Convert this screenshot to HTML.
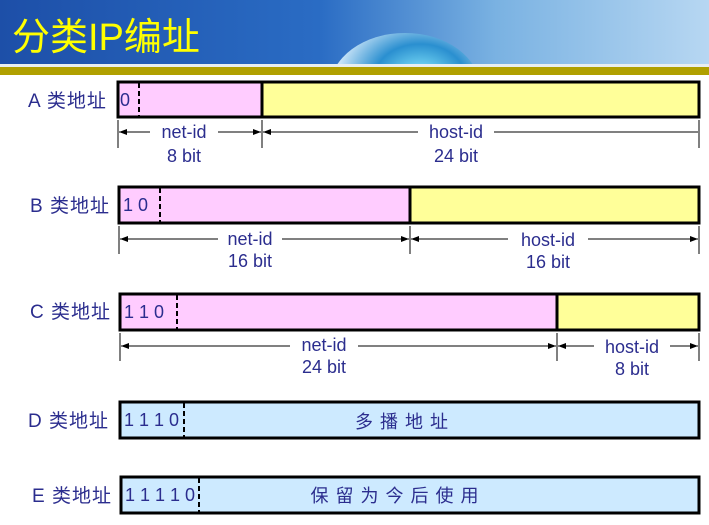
<!DOCTYPE html>
<html><head><meta charset="utf-8"><style>
body{margin:0;background:#fff}
svg text{font-family:"Liberation Sans","Noto Sans CJK SC",sans-serif;fill:#2b2d8e}
</style></head><body>
<svg width="709" height="520" xmlns="http://www.w3.org/2000/svg">
<defs>
<linearGradient id="bg" x1="0" x2="1" y1="0" y2="0">
<stop offset="0" stop-color="#1d4fa8"/><stop offset="0.45" stop-color="#2a6cc4"/><stop offset="0.7" stop-color="#7ab2e2"/><stop offset="1" stop-color="#b7d7f2"/></linearGradient>
<radialGradient id="globe" cx="0.6" cy="0.4" r="0.6"><stop offset="0" stop-color="#8ef0ff"/><stop offset="0.5" stop-color="#2a8fd0"/><stop offset="1" stop-color="#e8f4ff"/></radialGradient>
<clipPath id="cp"><rect width="709" height="64"/></clipPath>
<marker id="ar" markerWidth="8" markerHeight="6" refX="8" refY="3" orient="auto"><path d="M0,0 L8,3 L0,6 z" fill="#000"/></marker>
<marker id="al" markerWidth="8" markerHeight="6" refX="0" refY="3" orient="auto"><path d="M8,0 L0,3 L8,6 z" fill="#000"/></marker>
</defs>
<rect width="709" height="66" fill="url(#bg)"/>
<ellipse cx="405" cy="88" rx="75" ry="55" fill="url(#globe)" clip-path="url(#cp)"/>
<rect y="64" width="709" height="3" fill="#e8eef0"/>
<rect y="67" width="709" height="8" fill="#b0a000"/>
<text x="12" y="50" font-size="38" style="fill:#ffff00">分类IP编址</text>
<g font-size="19" letter-spacing="1">
<text x="28" y="107">A 类地址</text>
<text x="30" y="212">B 类地址</text>
<text x="30" y="318">C 类地址</text>
<text x="28" y="427">D 类地址</text>
<text x="32" y="502">E 类地址</text>
</g>
<g stroke="#000" stroke-width="3">
<rect x="118" y="82" width="144" height="35" fill="#ffccff"/><rect x="262" y="82" width="437" height="35" fill="#ffff99"/>
<rect x="119" y="187" width="291" height="36" fill="#ffccff"/><rect x="410" y="187" width="289" height="36" fill="#ffff99"/>
<rect x="120" y="294" width="437" height="36" fill="#ffccff"/><rect x="557" y="294" width="142" height="36" fill="#ffff99"/>
<rect x="120" y="402" width="579" height="36" fill="#cdeaff"/>
<rect x="121" y="477" width="578" height="36" fill="#cdeaff"/>
</g>
<g stroke="#000" stroke-width="2" stroke-dasharray="5,3">
<line x1="139" y1="83" x2="139" y2="116"/><line x1="160" y1="188" x2="160" y2="222"/>
<line x1="177" y1="295" x2="177" y2="329"/><line x1="184" y1="403" x2="184" y2="437"/>
<line x1="199" y1="478" x2="199" y2="512"/>
</g>
<g font-size="18">
<text x="120" y="106">0</text><text x="123" y="211">1 0</text><text x="124" y="318">1 1 0</text>
<text x="124" y="426">1 1 1 0</text><text x="125" y="501">1 1 1 1 0</text>
<text x="405" y="428" text-anchor="middle" letter-spacing="7">多播地址</text>
<text x="398" y="502" text-anchor="middle" letter-spacing="7">保留为今后使用</text>
</g>
<g stroke="#000" stroke-width="1">
<line x1="118" y1="120" x2="118" y2="148"/><line x1="262" y1="120" x2="262" y2="148"/><line x1="699" y1="120" x2="699" y2="148"/>
<line x1="119" y1="132" x2="150" y2="132" marker-start="url(#al)"/><line x1="218" y1="132" x2="261" y2="132" marker-end="url(#ar)"/>
<line x1="263" y1="132" x2="418" y2="132" marker-start="url(#al)"/><line x1="494" y1="132" x2="698" y2="132"/>
<line x1="119" y1="226" x2="119" y2="254"/><line x1="410" y1="226" x2="410" y2="254"/><line x1="699" y1="226" x2="699" y2="254"/>
<line x1="120" y1="239" x2="218" y2="239" marker-start="url(#al)"/><line x1="282" y1="239" x2="409" y2="239" marker-end="url(#ar)"/>
<line x1="411" y1="239" x2="508" y2="239" marker-start="url(#al)"/><line x1="588" y1="239" x2="698" y2="239" marker-end="url(#ar)"/>
<line x1="120" y1="333" x2="120" y2="361"/><line x1="557" y1="333" x2="557" y2="361"/><line x1="699" y1="333" x2="699" y2="361"/>
<line x1="121" y1="346" x2="290" y2="346" marker-start="url(#al)"/><line x1="358" y1="346" x2="556" y2="346" marker-end="url(#ar)"/>
<line x1="558" y1="346" x2="594" y2="346" marker-start="url(#al)"/><line x1="670" y1="346" x2="698" y2="346" marker-end="url(#ar)"/>
</g>
<g font-size="18" text-anchor="middle">
<text x="184" y="138">net-id</text><text x="184" y="162">8 bit</text>
<text x="456" y="138">host-id</text><text x="456" y="162">24 bit</text>
<text x="250" y="245">net-id</text><text x="250" y="267">16 bit</text>
<text x="548" y="246">host-id</text><text x="548" y="268">16 bit</text>
<text x="324" y="351">net-id</text><text x="324" y="373">24 bit</text>
<text x="632" y="353">host-id</text><text x="632" y="375">8 bit</text>
</g>
</svg>
</body></html>
